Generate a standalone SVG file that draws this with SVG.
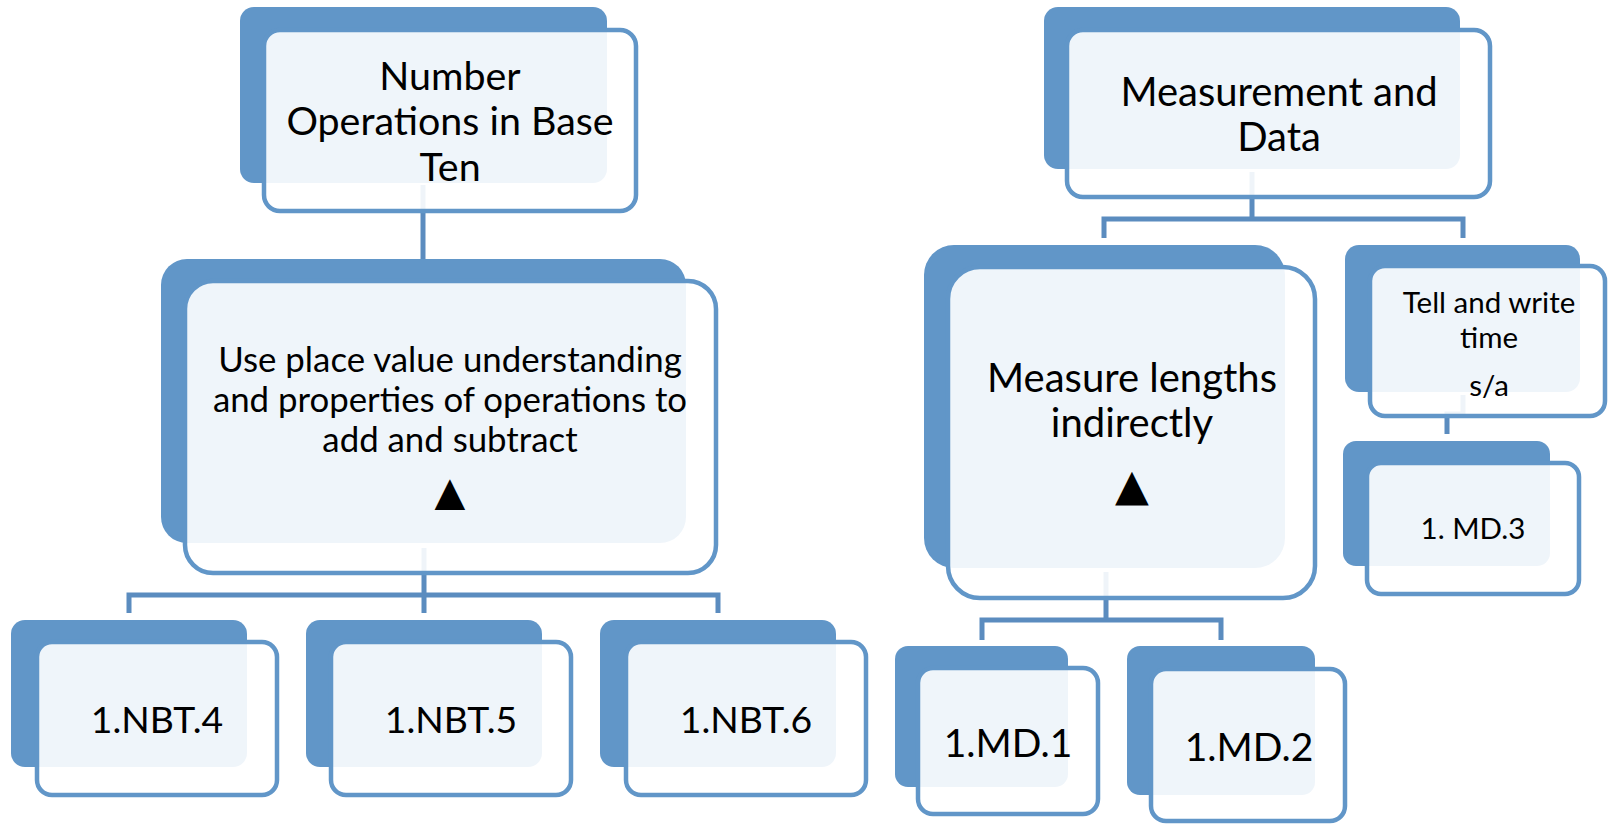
<svg xmlns="http://www.w3.org/2000/svg" width="1608" height="824" viewBox="0 0 1608 824">
<style>
.back{fill:#6196C8}
.front{fill:#ffffff;fill-opacity:0.9;stroke:#6196C8;stroke-width:4.5}
.conn{fill:none;stroke:#5B8CBF;stroke-width:5}
text{font-family:Lato,"Liberation Sans",sans-serif;fill:#000;text-anchor:middle}
.tri{font-family:"DejaVu Sans",sans-serif}
</style>
<rect width="1608" height="824" fill="#ffffff"/>
<g id="connectors">
<path class="conn" d="M423,185 V262"/>
<path class="conn" d="M424,548 V613 M129,613 V595 H718 V613"/>
<path class="conn" d="M1252,172 V219 M1104,238 V219 H1463 V238"/>
<path class="conn" d="M1106,572 V620 M982,640 V620 H1221 V640"/>
<path class="conn" d="M1463,395 V414 H1447 V434"/>
</g>
<g id="n-nbt">
<rect class="back" x="240" y="7" width="367" height="176" rx="14"/>
<rect class="front" x="264" y="30" width="372" height="181" rx="16"/>
<text x="450" y="90" font-size="39.4">Number</text>
<text x="450" y="135" font-size="39.4">Operations in Base</text>
<text x="450" y="181" font-size="39.4">Ten</text>
</g>
<g id="n-place-value">
<rect class="back" x="161" y="259" width="525" height="284" rx="26"/>
<rect class="front" x="185" y="281" width="531" height="292" rx="28"/>
<text x="450" y="372" font-size="34.8">Use place value understanding</text>
<text x="450" y="412" font-size="34.8">and properties of operations to</text>
<text x="450" y="452" font-size="34.8">add and subtract</text>
<text class="tri" x="450" y="505" font-size="40">▲</text>
</g>
<g id="n-nbt4">
<rect class="back" x="11" y="620" width="236" height="147" rx="14"/>
<rect class="front" x="37" y="642" width="240" height="153" rx="15"/>
<text x="157" y="733" font-size="37.3">1.NBT.4</text>
</g>
<g id="n-nbt5">
<rect class="back" x="306" y="620" width="236" height="147" rx="14"/>
<rect class="front" x="331" y="642" width="240" height="153" rx="15"/>
<text x="451" y="733" font-size="37.3">1.NBT.5</text>
</g>
<g id="n-nbt6">
<rect class="back" x="600" y="620" width="236" height="147" rx="14"/>
<rect class="front" x="626" y="642" width="240" height="153" rx="15"/>
<text x="746" y="733" font-size="37.3">1.NBT.6</text>
</g>
<g id="n-md">
<rect class="back" x="1044" y="7" width="416" height="162" rx="14"/>
<rect class="front" x="1067" y="30" width="423" height="167" rx="16"/>
<text x="1279" y="106" font-size="40">Measurement and</text>
<text x="1279" y="151" font-size="40">Data</text>
</g>
<g id="n-measure">
<rect class="back" x="924" y="245" width="361" height="323" rx="30"/>
<rect class="front" x="948" y="267" width="367" height="331" rx="32"/>
<text x="1132" y="392" font-size="40">Measure lengths</text>
<text x="1132" y="437" font-size="40">indirectly</text>
<text class="tri" x="1132" y="500" font-size="44">▲</text>
</g>
<g id="n-time">
<rect class="back" x="1345" y="245" width="235" height="147" rx="14"/>
<rect class="front" x="1370" y="266" width="235" height="150" rx="15"/>
<text x="1489" y="313" font-size="29.5">Tell and write</text>
<text x="1489" y="348" font-size="29.5">time</text>
<text x="1489" y="396" font-size="29.5">s/a</text>
</g>
<g id="n-md3">
<rect class="back" x="1343" y="441" width="207" height="125" rx="13"/>
<rect class="front" x="1367" y="463" width="212" height="131" rx="14"/>
<text x="1473" y="539" font-size="29.5">1. MD.3</text>
</g>
<g id="n-md1">
<rect class="back" x="895" y="646" width="173" height="141" rx="13"/>
<rect class="front" x="918" y="668" width="180" height="146" rx="15"/>
<text x="1008" y="757" font-size="39">1.MD.1</text>
</g>
<g id="n-md2">
<rect class="back" x="1127" y="646" width="188" height="149" rx="13"/>
<rect class="front" x="1151" y="669" width="194" height="152" rx="15"/>
<text x="1249" y="761" font-size="39">1.MD.2</text>
</g>
</svg>
